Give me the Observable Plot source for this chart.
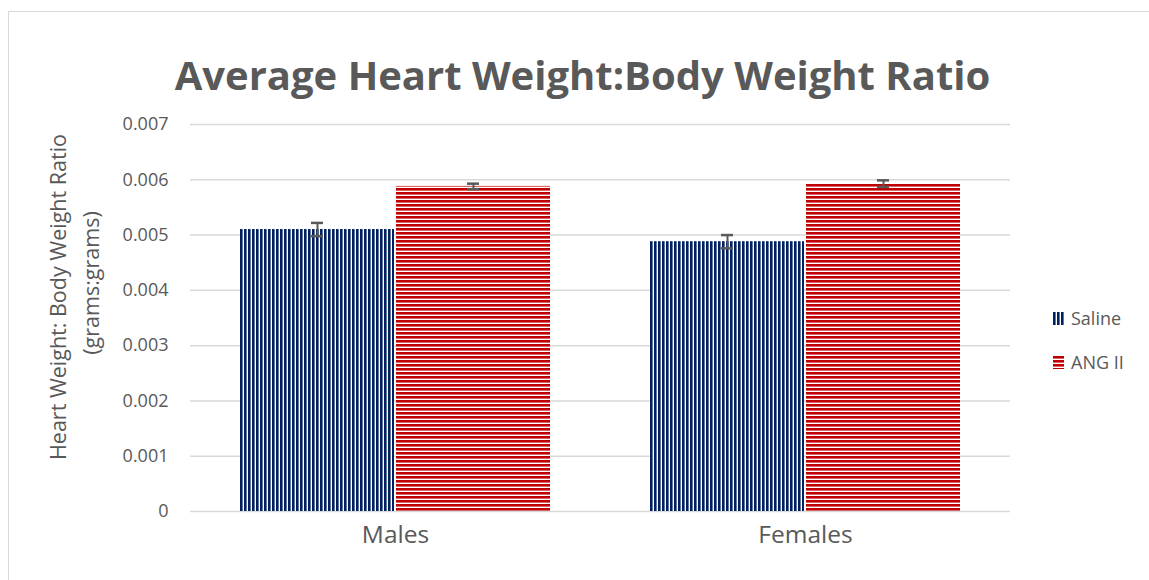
<!DOCTYPE html>
<html><head><meta charset="utf-8">
<script src="https://cdn.jsdelivr.net/npm/d3@7"></script>
<script src="https://cdn.jsdelivr.net/npm/@observablehq/plot@0.6"></script>
<style>
body{margin:0;background:#fff;font-family:"Open Sans",sans-serif;}
#wrap{position:relative;width:1149px;height:580px;overflow:hidden;background:#fff;}
#frame{position:absolute;left:8px;top:11px;width:1300px;height:800px;border:1.5px solid #d9d9d9;}
#title{position:absolute;left:15px;width:1135px;top:47px;text-align:center;font-weight:700;font-size:40px;line-height:56px;color:#595959;white-space:nowrap;}
#chart{position:absolute;left:0;top:100px;}
#legend{position:absolute;left:1053px;top:305px;font-size:18px;color:#595959;}
.item{display:flex;align-items:center;height:26px;margin-bottom:18px;}
.item svg{margin-right:7px;}
.ylab{position:absolute;transform:translate(-50%,-50%) rotate(-90deg);white-space:nowrap;font-size:21.5px;color:#595959;line-height:26px;}
</style></head>
<body>
<div id="wrap">
  <div id="frame"></div>
  <div id="title">Average Heart Weight:Body Weight Ratio</div>
  <div id="chart"></div>
  <div id="legend"></div>
</div>
<script>
const categories = ["Males", "Females"];
const series = ["Saline", "ANG II"];
const salineValues = [0.00510, 0.00488];
const angValues = [0.00588, 0.00593];
const salineErrors = [0.00012, 0.00012];
const angErrors = [0.00005, 0.00006];
const yTicks = [0, 0.001, 0.002, 0.003, 0.004, 0.005, 0.006, 0.007];
const yTickLabels = ["0", "0.001", "0.002", "0.003", "0.004", "0.005", "0.006", "0.007"];
const yLabelLines = ["Heart Weight: Body Weight Ratio", "(grams:grams)"];

const navy = "#002060", red = "#C00000", grey = "#595959";

const data = categories.flatMap((c, i) => [
  {category: c, series: series[0], value: salineValues[i], err: salineErrors[i]},
  {category: c, series: series[1], value: angValues[i], err: angErrors[i]}
]);

const plot = Plot.plot({
  width: 1149, height: 460,
  marginTop: 24, marginBottom: 49, marginLeft: 190, marginRight: 139,
  style: {fontFamily: "Open Sans", color: grey, background: "transparent", overflow: "visible"},
  fx: {domain: categories, padding: 0, label: null},
  x: {domain: series, paddingInner: 0.013, paddingOuter: 0.32, axis: null},
  y: {domain: [0, 0.007], label: null},
  color: {domain: series, range: ["url(#pSaline)", "url(#pAng)"]},
  marks: [
    Plot.gridY(yTicks, {stroke: "#d9d9d9", strokeOpacity: 1, strokeWidth: 1.5}),
    Plot.axisY(yTicks, {tickSize: 0, tickPadding: 22, fontSize: 18, label: null,
      tickFormat: d => yTickLabels[yTicks.indexOf(d)]}),
    Plot.axisFx({anchor: "bottom", tickSize: 0, tickPadding: 14, fontSize: 24.5, label: null}),
    Plot.barY(data, {fx: "category", x: "series", y: "value", fill: "series"}),
    Plot.ruleX(data, {fx: "category", x: "series", y1: d => d.value - d.err, y2: d => d.value + d.err, stroke: grey, strokeWidth: 2}),
    Plot.tickY(data, {fx: "category", x: "series", y: d => d.value + d.err, insetLeft: 71, insetRight: 71, stroke: grey, strokeWidth: 2.5}),
    Plot.tickY(data, {fx: "category", x: "series", y: d => d.value - d.err, insetLeft: 71, insetRight: 71, stroke: grey, strokeWidth: 2.5})
  ]
});

const svg = d3.select(plot);
const defs = svg.insert("defs", ":first-child");
const p1 = defs.append("pattern").attr("id", "pSaline").attr("patternUnits", "userSpaceOnUse").attr("width", 4).attr("height", 4);
p1.append("rect").attr("width", 4).attr("height", 4).attr("fill", "#fff");
p1.append("rect").attr("width", 2.6).attr("height", 4).attr("fill", navy);
const p2 = defs.append("pattern").attr("id", "pAng").attr("patternUnits", "userSpaceOnUse").attr("width", 4).attr("height", 4);
p2.append("rect").attr("width", 4).attr("height", 4).attr("fill", "#fff");
p2.append("rect").attr("width", 4).attr("height", 2.6).attr("fill", red);

document.getElementById("chart").appendChild(plot);

// y-axis title (two rotated lines)
const wrap = d3.select("#wrap");
wrap.append("div").attr("class", "ylab").style("left", "58px").style("top", "297px").text(yLabelLines[0]);
wrap.append("div").attr("class", "ylab").style("left", "91px").style("top", "283px").text(yLabelLines[1]);

const legend = d3.select("#legend");
series.forEach((s, i) => {
  const item = legend.append("div").attr("class", "item");
  const sw = item.append("svg").attr("width", 11).attr("height", 13);
  const d = sw.append("defs");
  const p = d.append("pattern").attr("id", "lg" + i).attr("patternUnits", "userSpaceOnUse").attr("width", 4).attr("height", 4);
  p.append("rect").attr("width", 4).attr("height", 4).attr("fill", "#fff");
  if (i === 0) p.append("rect").attr("width", 2.6).attr("height", 4).attr("fill", navy);
  else p.append("rect").attr("width", 4).attr("height", 2.6).attr("fill", red);
  sw.append("rect").attr("width", 11).attr("height", 13).attr("fill", `url(#lg${i})`);
  item.append("span").text(s);
});
</script>
</body></html>
